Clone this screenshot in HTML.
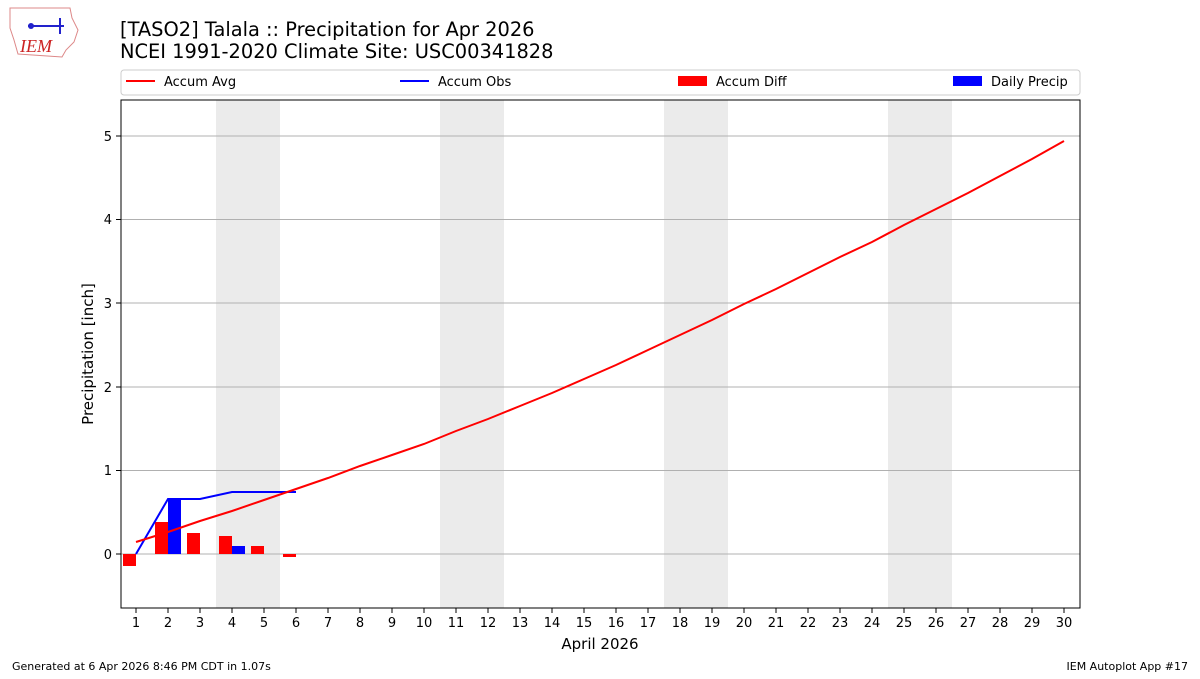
<!DOCTYPE html>
<html><head><meta charset="utf-8"><style>
body{margin:0;background:#fff;width:1200px;height:675px;overflow:hidden;font-family:"DejaVu Sans","Liberation Sans",sans-serif}
</style></head><body>
<svg width="1200" height="675" xmlns="http://www.w3.org/2000/svg" font-family="DejaVu Sans, Liberation Sans, sans-serif">
<g>
<path d="M10,8 L70,8 L72,18 L78,30 L74,42 L66,50 L62,57 L18,54 L14,40 L10,28 Z" fill="none" stroke="#d88" stroke-width="1"/>
<line x1="28" y1="26" x2="64" y2="26" stroke="#22c" stroke-width="2"/>
<line x1="60" y1="18" x2="60" y2="34" stroke="#22c" stroke-width="2"/>
<circle cx="31" cy="26" r="3" fill="#22c"/>
<text x="20" y="52" font-family="Liberation Serif, serif" font-style="italic" font-size="18" fill="#c22">IEM</text>
</g>
<text x="120" y="36" font-size="19.4">[TASO2] Talala :: Precipitation for Apr 2026</text>
<text x="120" y="58" font-size="19.4">NCEI 1991-2020 Climate Site: USC00341828</text>
<rect x="121" y="70" width="959" height="25" rx="3" fill="#fff" stroke="#ccc"/>
<line x1="126" y1="81" x2="155" y2="81" stroke="red" stroke-width="2"/>
<text x="164" y="86" font-size="13">Accum Avg</text>
<line x1="400" y1="81" x2="429" y2="81" stroke="blue" stroke-width="2"/>
<text x="438" y="86" font-size="13">Accum Obs</text>
<rect x="678" y="76" width="29" height="10" fill="red"/>
<text x="716" y="86" font-size="13">Accum Diff</text>
<rect x="953" y="76" width="29" height="10" fill="blue"/>
<text x="991" y="86" font-size="13">Daily Precip</text>
<g fill="#ebebeb">
<rect x="216" y="100" width="64" height="508"/>
<rect x="440" y="100" width="64" height="508"/>
<rect x="664" y="100" width="64" height="508"/>
<rect x="888" y="100" width="64" height="508"/>
</g>
<g stroke="#b0b0b0" stroke-width="1">
<line x1="121" y1="136" x2="1080" y2="136"/>
<line x1="121" y1="219.5" x2="1080" y2="219.5"/>
<line x1="121" y1="303" x2="1080" y2="303"/>
<line x1="121" y1="387" x2="1080" y2="387"/>
<line x1="121" y1="470.5" x2="1080" y2="470.5"/>
<line x1="121" y1="554" x2="1080" y2="554"/>
</g>
<g fill="red">
<rect x="123" y="554" width="13" height="12"/>
<rect x="155" y="522" width="13" height="32"/>
<rect x="187" y="533" width="13" height="21"/>
<rect x="219" y="536" width="13" height="18"/>
<rect x="251" y="546" width="13" height="8"/>
<rect x="283" y="554" width="13" height="3"/>
</g>
<g fill="blue">
<rect x="168" y="499" width="13" height="55"/>
<rect x="232" y="546" width="13" height="8"/>
</g>
<polyline fill="none" stroke="blue" stroke-width="2" points="136,554 168,499 200,499 232,492 264,492 296,492"/>
<polyline fill="none" stroke="red" stroke-width="2" points="136,542 168,532 200,521 232,511 264,500 296,489 328,478 360,466 392,455 424,444 456,431 488,419 520,406 552,393 584,379 616,365 648,350 680,335 712,320 744,304 776,289 808,273 840,257 872,242 904,225 936,209 968,193 1000,176 1032,159 1064,141"/>
<rect x="121" y="100" width="959" height="508" fill="none" stroke="#000" stroke-width="1"/>
<g stroke="#000"><line x1="116" y1="136" x2="121" y2="136"/><line x1="116" y1="219.5" x2="121" y2="219.5"/><line x1="116" y1="303" x2="121" y2="303"/><line x1="116" y1="387" x2="121" y2="387"/><line x1="116" y1="470.5" x2="121" y2="470.5"/><line x1="116" y1="554" x2="121" y2="554"/></g>
<g font-size="13" text-anchor="end"><text x="112" y="141">5</text><text x="112" y="224">4</text><text x="112" y="308">3</text><text x="112" y="392">2</text><text x="112" y="475">1</text><text x="112" y="559">0</text></g>
<text transform="translate(93,354) rotate(-90)" font-size="15" text-anchor="middle">Precipitation [inch]</text>
<g id="xt" font-size="13" text-anchor="middle"></g>
<text x="600" y="649" font-size="15" text-anchor="middle">April 2026</text>
<text x="12" y="670" font-size="11">Generated at 6 Apr 2026 8:46 PM CDT in 1.07s</text>
<text x="1188" y="670" font-size="11" text-anchor="end">IEM Autoplot App #17</text>
<g stroke="#000" id="xtl"></g>
</svg>
<script>
var g=document.getElementById('xt'),l=document.getElementById('xtl'),ns='http://www.w3.org/2000/svg';
for(var d=1;d<=30;d++){var x=136+(d-1)*32;var t=document.createElementNS(ns,'text');t.setAttribute('x',x);t.setAttribute('y',627);t.textContent=d;g.appendChild(t);
var ln=document.createElementNS(ns,'line');ln.setAttribute('x1',x);ln.setAttribute('x2',x);ln.setAttribute('y1',608);ln.setAttribute('y2',613);l.appendChild(ln);}
</script>
</body></html>
